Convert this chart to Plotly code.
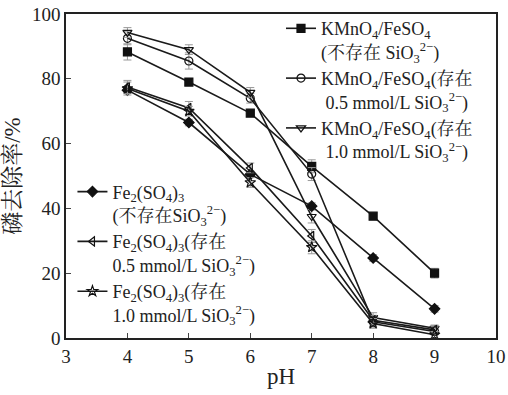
import plotly.graph_objects as go

ph = [4, 5, 6, 7, 8, 9]

km_none = [88.3, 79.0, 69.4, 53.0, 37.6, 20.0]
km_05 = [92.5, 85.5, 74.0, 50.6, 5.0, 2.0]
km_10 = [94.3, 89.0, 75.8, 37.5, 6.3, 3.0]
fe_none = [76.5, 66.5, 50.5, 40.7, 24.7, 9.0]
fe_05 = [77.5, 71.0, 52.5, 31.5, 5.5, 2.5]
fe_10 = [77.0, 70.0, 48.0, 28.0, 4.5, 1.0]

err_km_none = [2.5, 1.0, 1.0, 2.0, 1.0, 1.5]
err_km_05 = [2.0, 2.5, 1.5, 2.0, 1.5, 1.0]
err_km_10 = [1.5, 1.5, 1.5, 2.0, 1.5, 1.0]
err_fe_none = [1.0, 1.0, 1.0, 1.0, 1.0, 1.0]
err_fe_05 = [2.0, 2.0, 1.5, 2.0, 1.5, 1.0]
err_fe_10 = [2.0, 1.5, 1.5, 2.0, 1.5, 1.0]

names = [
    "KMnO<sub>4</sub>/FeSO<sub>4</sub><br>(不存在 SiO<sub>3</sub><sup>2−</sup>)",
    "KMnO<sub>4</sub>/FeSO<sub>4</sub>(存在<br> 0.5 mmol/L SiO<sub>3</sub><sup>2−</sup>)",
    "KMnO<sub>4</sub>/FeSO<sub>4</sub>(存在<br> 1.0 mmol/L SiO<sub>3</sub><sup>2−</sup>)",
    "Fe<sub>2</sub>(SO<sub>4</sub>)<sub>3</sub><br>(不存在SiO<sub>3</sub><sup>2−</sup>)",
    "Fe<sub>2</sub>(SO<sub>4</sub>)<sub>3</sub>(存在<br>0.5 mmol/L SiO<sub>3</sub><sup>2−</sup>)",
    "Fe<sub>2</sub>(SO<sub>4</sub>)<sub>3</sub>(存在<br>1.0 mmol/L SiO<sub>3</sub><sup>2−</sup>)",
]

series = [
    (km_none, err_km_none, "square", "legend"),
    (km_05, err_km_05, "circle-open", "legend"),
    (km_10, err_km_10, "triangle-down-open", "legend"),
    (fe_none, err_fe_none, "diamond", "legend2"),
    (fe_05, err_fe_05, "triangle-left-open", "legend2"),
    (fe_10, err_fe_10, "star-open", "legend2"),
]

fig = go.Figure()
for (vals, errs, sym, lg), nm in zip(series, names):
    fig.add_trace(go.Scatter(
        x=ph, y=vals, name=nm, mode="lines+markers",
        line=dict(color="#1a1a1a", width=1.6),
        marker=dict(symbol=sym, size=8, color="#111111", line=dict(color="#111111", width=1.2)),
        error_y=dict(type="data", array=errs, visible=True, color="#999999", thickness=1, width=4),
        legend=lg,
    ))

serif = "Liberation Serif, Noto Serif CJK SC, Noto Sans CJK SC, serif"
fig.update_layout(
    width=508, height=395,
    margin=dict(l=66, r=12, t=14, b=57, autoexpand=False),
    paper_bgcolor="white", plot_bgcolor="white",
    font=dict(family=serif, size=19, color="#222222"),
    legend=dict(x=0.5, y=1.012, xanchor="left", yanchor="top", valign="top",
                bgcolor="rgba(0,0,0,0)", font=dict(size=18, family=serif),
                itemwidth=30, tracegroupgap=0),
    legend2=dict(x=0.015, y=0.508, xanchor="left", yanchor="top", valign="top",
                 bgcolor="rgba(0,0,0,0)", font=dict(size=18, family=serif),
                 itemwidth=30, tracegroupgap=0),
    xaxis=dict(range=[3, 10], tickvals=[3, 4, 5, 6, 7, 8, 9, 10], ticks="inside", ticklen=5,
               showline=True, linecolor="#222222", linewidth=1.5, mirror=True, showgrid=False,
               zeroline=False, automargin=False, title=dict(text="pH", standoff=2)),
    yaxis=dict(range=[0, 100], tickvals=[0, 20, 40, 60, 80, 100], ticks="inside", ticklen=5,
               showline=True, linecolor="#222222", linewidth=1.5, mirror=True, showgrid=False,
               zeroline=False, automargin=False, title=dict(text="磷去除率/%", standoff=6)),
)

fig.write_html("out.html", config={"displayModeBar": False},
               post_script="document.body.style.margin='0';document.body.style.overflow='hidden';")
